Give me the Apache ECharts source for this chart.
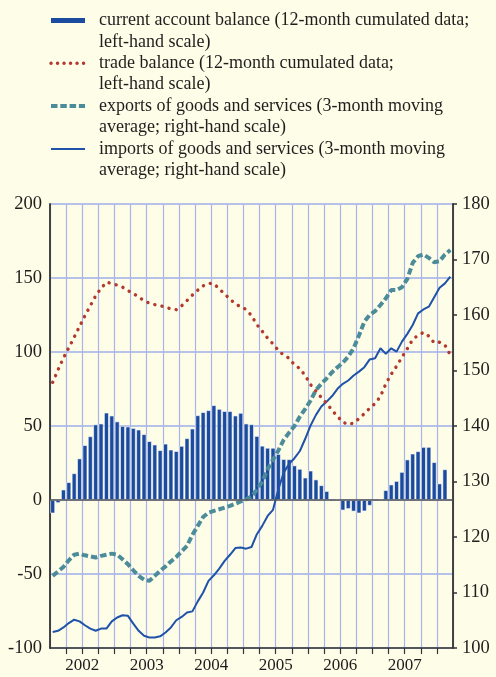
<!DOCTYPE html>
<html>
<head>
<meta charset="utf-8">
<script src="https://cdn.jsdelivr.net/npm/echarts@6/dist/echarts.min.js"></script>
<style>
  html, body { margin: 0; padding: 0; background: #fefde8; }
  #chart { width: 496px; height: 677px; }
</style>
</head>
<body>
<div id="chart"></div>
<script>
// Monthly observations, January 2002 to March 2008
const yearLabels = ['2002', '2003', '2004', '2005', '2006', '2007'];
const months = [];
for (let y = 2002; y <= 2008; y++) {
  for (let m = 1; m <= 12; m++) {
    if (y === 2008 && m > 3) break;
    months.push(y + '-' + String(m).padStart(2, '0'));
  }
}

// current account balance, 12-month cumulated (left-hand scale)
const currentAccount = [
  -9, -2, 7, 12, 18, 28, 37, 43, 51, 51.6, 59, 57,
  53, 50, 49.6, 48.6, 47.5, 44.4, 39.7, 37.4, 33.6, 38, 34, 33,
  36.5, 41.7, 48.2, 57.2, 59.3, 60.6, 64, 61.5, 60, 60, 57, 58.8,
  51.6, 51.1, 43.2, 36.6, 35.2, 35.2, 31, 27.6, 27.5, 23.3, 21, 15.1,
  19.8, 13.8, 9.9, 6, null, 0.4, -7, -6, -7.7, -9, -7.6, -3.8,
  null, 0.4, 6.6, 10.4, 12.8, 18.9, 27.3, 31.3, 32.9, 35.8, 35.8, 25.5,
  11.1, 20.7, null
];

// trade balance, 12-month cumulated (left-hand scale)
const tradeBalance = [
  79.5, 88, 96, 102.9, 110, 117.3, 124.5, 131.2, 138, 143, 147.2, 146.3,
  145.2, 143.8, 141.5, 139.6, 137, 134.8, 133, 132, 131.3, 130.2, 129.2, 128.6,
  131.2, 134.8, 138.5, 141.8, 144.7, 146.4, 146.2, 142.6, 139.2, 135.7, 132.6, 130.4,
  128.8, 124.6, 118.5, 114, 109.3, 105.5, 101, 97.9, 95.8, 91.3, 88.8, 84,
  77.9, 73.6, 69.2, 65.3, 60.6, 56.5, 52.6, 51, 52, 55, 58.4, 62,
  65.2, 70, 78.5, 85, 90.4, 96.5, 102.3, 108.5, 111.3, 113.2, 110.7, 106.2,
  106.6, 104.7, 98
];

// exports of goods and services, 3-month moving average (right-hand scale)
const exportsGS = [
  113, 113.8, 114.6, 115.8, 116.8, 117, 116.7, 116.5, 116.3, 116.6, 116.8, 117,
  116.8, 116, 115.1, 114, 113, 112.3, 112.1, 113, 113.9, 114.7, 115.6, 116.4,
  117.4, 118.4, 120.4, 122, 123.6, 124.4, 124.7, 125, 125.3, 125.6, 126, 126.4,
  126.8, 127.3, 128.5, 130, 132.2, 133.9, 135.6, 137.5, 138.8, 140, 141.7, 143.1,
  144.6, 146.5, 147.6, 148.6, 149.7, 150.6, 151.4, 152.5, 154, 156.3, 158.8, 160,
  160.7, 161.8, 163, 164.5, 164.5, 165, 166.5, 169.4, 170.6, 170.9, 170.3, 169.5,
  169.7, 170.9, 171.7
];

// imports of goods and services, 3-month moving average (right-hand scale)
const importsGS = [
  102.9, 103.1, 103.7, 104.5, 105.1, 104.8, 104.1, 103.5, 103.1, 103.5, 103.5, 104.8,
  105.5, 105.9, 105.8, 104.4, 103.1, 102.2, 101.9, 101.9, 102.1, 102.8, 103.7, 105,
  105.6, 106.4, 106.6, 108.4, 110, 112.1, 113.1, 114.3, 115.7, 116.8, 118, 118.1,
  117.9, 118.2, 120.5, 122, 123.8, 124.9, 128.6, 131.6, 133.2, 134.2, 135.5, 137.7,
  140.1, 142, 143.5, 144.4, 145.4, 146.7, 147.6, 148.2, 149.1, 149.8, 150.6, 152,
  152.2, 154, 153, 154, 153.4, 155.2, 156.6, 158.2, 160.3, 161, 161.5, 163.2,
  164.9, 165.7, 166.9
];

// Legend captions; the leading blank line keeps the icon level with the first line
const legendText = {
  ca: '\ncurrent account balance (12-month cumulated data;\nleft-hand scale)',
  tb: '\ntrade balance (12-month cumulated data;\nleft-hand scale)',
  ex: '\nexports of goods and services (3-month moving\naverage; right-hand scale)',
  im: '\nimports of goods and services (3-month moving\naverage; right-hand scale)'
};

const FONT = '"Liberation Serif", "Times New Roman", serif';
const INK = '#1e1e1e';
const RED = '#b3392e';
const TEAL = '#4b8b9a';
const BLUE = '#1f52a8';

// each month sits in the middle of its slot on the time axis
const toPoints = arr => arr.map((v, k) => [k + 0.5, v]);

const hiddenMarker = { opacity: 0 };

const chart = echarts.init(document.getElementById('chart'), null, { renderer: 'canvas' });
chart.setOption({
  backgroundColor: '#fefde8',
  animation: false,
  textStyle: { fontFamily: FONT },
  legend: {
    orient: 'vertical',
    left: 49,
    top: -11.6,
    padding: 0,
    itemWidth: 34,
    itemHeight: 5,
    itemGap: -21.4,
    selectedMode: false,
    textStyle: {
      fontFamily: FONT,
      fontSize: 18,
      color: INK,
      lineHeight: 21.4,
      padding: [0, 0, 0, 9]
    },
    formatter: name => legendText[name],
    data: [
      { name: 'ca', icon: 'rect', itemStyle: { borderWidth: 0 } },
      { name: 'tb', itemStyle: hiddenMarker,
        lineStyle: { color: RED, width: 3.4, type: [0.1, 6.4], cap: 'round' } },
      { name: 'ex', itemStyle: hiddenMarker,
        lineStyle: { color: TEAL, width: 4, type: [6.5, 2.8] } },
      { name: 'im', itemStyle: hiddenMarker,
        lineStyle: { color: BLUE, width: 2 } }
    ]
  },
  grid: { left: 50, right: 43, top: 204, bottom: 29, containLabel: false },
  xAxis: {
    type: 'value',
    min: 0,
    max: months.length,
    interval: 3,
    axisLine: { show: true, onZero: false, lineStyle: { color: '#333', width: 1.5 } },
    axisTick: { show: true, length: 6, lineStyle: { color: '#333', width: 1.2 } },
    axisLabel: {
      fontFamily: FONT,
      fontSize: 17,
      color: INK,
      margin: 9,
      showMinLabel: false,
      showMaxLabel: false,
      formatter: v => (v % 12 === 6 ? yearLabels[(v - 6) / 12] || '' : '')
    },
    splitLine: { show: true, lineStyle: { color: '#a9b5e6', width: 1.2 } }
  },
  yAxis: [
    {
      type: 'value',
      min: -100,
      max: 200,
      interval: 50,
      axisLine: { show: true, onZero: false, lineStyle: { color: '#333', width: 1.8 } },
      axisTick: { show: false },
      axisLabel: { fontFamily: FONT, fontSize: 18.5, color: INK, margin: 8 },
      splitLine: { show: true, lineStyle: { color: '#b7c2ea', width: 2 } }
    },
    {
      type: 'value',
      position: 'right',
      min: 100,
      max: 180,
      interval: 10,
      axisLine: { show: true, onZero: false, lineStyle: { color: '#333', width: 1.8 } },
      axisTick: { show: true, length: 4, lineStyle: { color: '#333', width: 1.5 } },
      axisLabel: { fontFamily: FONT, fontSize: 18.5, color: INK, margin: 9 },
      splitLine: { show: false }
    }
  ],
  series: [
    {
      name: 'ca',
      type: 'bar',
      yAxisIndex: 0,
      barWidth: 4.7,
      data: toPoints(currentAccount),
      itemStyle: { color: '#1b4b9e', borderColor: '#ffffff', borderWidth: 0.6 },
      markLine: {
        silent: true,
        symbol: ['none', 'none'],
        label: { show: false },
        lineStyle: { color: '#555', width: 1.6, type: 'solid' },
        data: [{ yAxis: 0 }]
      },
      z: 2
    },
    {
      name: 'ex',
      type: 'line',
      yAxisIndex: 1,
      symbol: 'none',
      showSymbol: false,
      data: toPoints(exportsGS),
      lineStyle: { color: TEAL, width: 4, type: [6.5, 3] },
      itemStyle: { color: TEAL },
      z: 3
    },
    {
      name: 'im',
      type: 'line',
      yAxisIndex: 1,
      symbol: 'none',
      showSymbol: false,
      data: toPoints(importsGS),
      lineStyle: { color: BLUE, width: 2 },
      itemStyle: { color: BLUE },
      z: 4
    },
    {
      name: 'tb',
      type: 'line',
      yAxisIndex: 0,
      symbol: 'none',
      showSymbol: false,
      data: toPoints(tradeBalance),
      lineStyle: { color: RED, width: 3.4, type: [0.1, 7.2], cap: 'round' },
      itemStyle: { color: RED },
      z: 5
    }
  ]
});
</script>
</body>
</html>
